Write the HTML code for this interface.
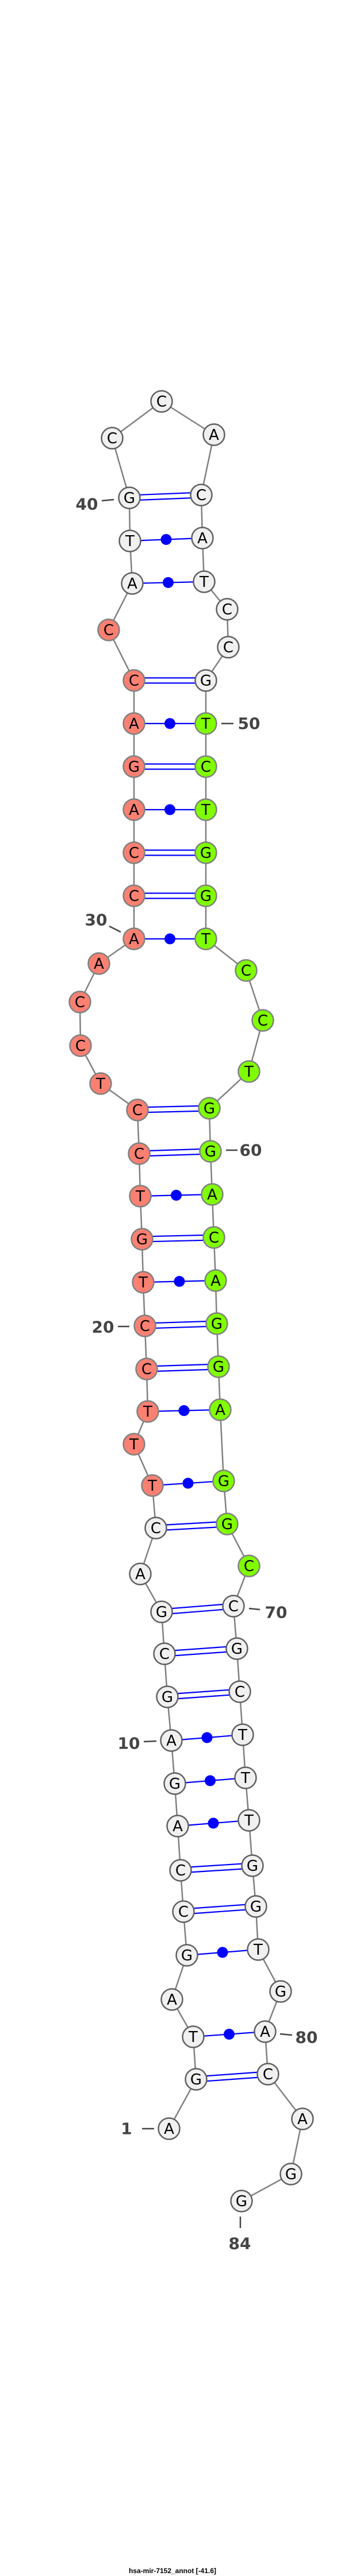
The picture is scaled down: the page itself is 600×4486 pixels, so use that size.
<!DOCTYPE html>
<html><head><meta charset="utf-8"><style>html,body{margin:0;padding:0;background:#fff}svg{display:block}</style></head>
<body>
<svg id="s" width="600" height="4486" viewBox="0 0 600 4486" xmlns="http://www.w3.org/2000/svg">
<g id="bb" stroke="#808080" stroke-width="2.5" fill="none"></g>
<g id="pp"></g>
<g id="nn"></g>
<g font-family="DejaVu Sans, Liberation Sans, sans-serif" font-weight="bold" font-size="28" fill="#444" text-anchor="middle" dominant-baseline="central">
<text x="151" y="878">40</text><text x="433" y="1260">50</text><text x="167" y="1602">30</text>
<text x="436" y="2003">60</text><text x="179" y="2311">20</text><text x="480" y="2808">70</text>
<text x="224" y="3036">10</text><text x="533" y="3548">80</text><text x="220" y="3707">1</text>
<text x="417" y="3907">84</text>
</g>
<g stroke="#444" stroke-width="2.5">
<line x1="177" y1="872" x2="198" y2="870"/><line x1="385" y1="1260" x2="406" y2="1260"/>
<line x1="190" y1="1613" x2="210" y2="1623"/><line x1="393" y1="2003" x2="413" y2="2003"/>
<line x1="205" y1="2310" x2="225" y2="2310"/><line x1="433" y1="2801" x2="452" y2="2803"/>
<line x1="250" y1="3033" x2="272" y2="3032"/><line x1="487" y1="3542" x2="508" y2="3544"/>
<line x1="247" y1="3707" x2="268" y2="3707"/><line x1="418" y1="3860" x2="418" y2="3880"/>
</g>
<text x="300" y="4477" font-family="Liberation Sans, sans-serif" font-weight="bold" font-size="12" text-anchor="middle" dominant-baseline="central" fill="#000">hsa-mir-7152_annot [-41.6]</text>
</svg>
<script>
var N=[["A",294,3707],["G",341,3621],["T",336,3547],["A",299,3482],["G",325,3405],["C",319,3329],["C",314,3257],["A",309,3180],["G",304,3106],["A",298,3031],["G",291,2955],["C",286,2880],["G",281,2807],["A",244,2741],["C",271,2661],["T",265,2587],["T",233,2515],["T",257,2458],["C",255,2384],["C",252,2309],["T",249,2233],["G",247,2158],["T",244,2083],["C",242,2009],["C",239,1933],["T",175,1887],["C",140,1821],["C",139,1745],["A",172,1678],["A",233,1635],["C",233,1560],["C",233,1485],["A",233,1410],["G",233,1335],["A",233,1260],["C",233,1185],["C",189,1097],["A",230,1016],["T",226,942],["G",225,867],["C",195,763],["C",281,699],["A",372,757],["C",350,862],["A",352,937],["T",355,1013],["C",395,1061],["C",397,1127],["G",358,1185],["T",358,1260],["C",358,1335],["T",358,1410],["G",358,1485],["G",358,1560],["T",358,1635],["C",428,1690],["C",457,1777],["T",433,1866],["G",364,1930],["G",366,2005],["A",369,2080],["C",372,2155],["A",375,2230],["G",377,2305],["G",380,2380],["A",383,2455],["G",389,2579],["G",395,2654],["C",433,2727],["C",406,2797],["G",412,2871],["C",417,2946],["T",422,3021],["T",427,3096],["T",433,3170],["G",439,3249],["G",445,3320],["T",449,3395],["G",488,3468],["A",461,3538],["C",466,3612],["A",526,3690],["G",506,3786],["G",420,3833]];
var P=[[2,81],[3,80],[5,78],[6,77],[7,76],[8,75],[9,74],[10,73],[11,72],[12,71],[13,70],[15,68],[16,67],[18,66],[19,65],[20,64],[21,63],[22,62],[23,61],[24,60],[25,59],[30,55],[31,54],[32,53],[33,52],[34,51],[35,50],[36,49],[38,46],[39,45],[40,44]];
var NS="http://www.w3.org/2000/svg";
function el(t,a,p){var e=document.createElementNS(NS,t);for(var k in a)e.setAttribute(k,a[k]);p.appendChild(e);return e;}
var bb=document.getElementById("bb"),pp=document.getElementById("pp"),nn=document.getElementById("nn");
for(var i=0;i<N.length-1;i++)el("line",{x1:N[i][1],y1:N[i][2],x2:N[i+1][1],y2:N[i+1][2]},bb);
P.forEach(function(p){var a=N[p[0]-1],b=N[p[1]-1];var s=a[0]+b[0];
 if(s=="GC"||s=="CG"){var dx=b[1]-a[1],dy=b[2]-a[2],L=Math.hypot(dx,dy),ox=-dy/L*4.5,oy=dx/L*4.5;
  [1,-1].forEach(function(k){el("line",{x1:a[1]+k*ox,y1:a[2]+k*oy,x2:b[1]+k*ox,y2:b[2]+k*oy,stroke:"#0000ff","stroke-width":2.2},pp);});}
 else{el("line",{x1:a[1],y1:a[2],x2:b[1],y2:b[2],stroke:"#0000ff","stroke-width":2.2},pp);
  el("circle",{cx:(a[1]+b[1])/2,cy:(a[2]+b[2])/2,r:9.5,fill:"#0000ff"},pp);}
});
N.forEach(function(n,i){var k=i+1;var f="#f0f0f0",st="#606060";
 if(k>=16&&k<=37){f="#fa8072";st="#808080";} if(k>=50&&k<=69){f="#7fff00";st="#808080";}
 el("circle",{cx:n[1],cy:n[2],r:18.5,fill:f,stroke:st,"stroke-width":2.5},nn);
 var t=el("text",{x:n[1],y:n[2]+1,"font-family":"DejaVu Sans, Liberation Sans, sans-serif","font-size":26,"text-anchor":"middle","dominant-baseline":"central",fill:"#000"},nn);t.textContent=n[0];});
</script>
</body></html>
